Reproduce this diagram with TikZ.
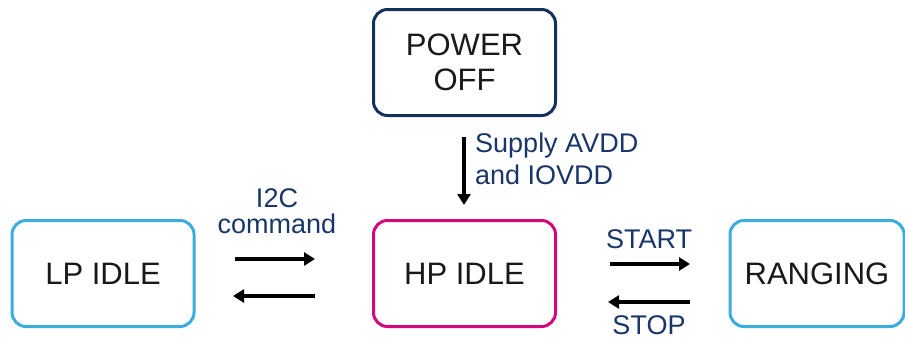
\documentclass[tikz,border=0pt]{standalone}
\usepackage{fontspec}
\setmainfont{Liberation Sans}
\usepackage{tikz}
\usetikzlibrary{arrows.meta}

\definecolor{navy}{HTML}{14305C}
\definecolor{lblue}{HTML}{3AACDE}
\definecolor{magen}{HTML}{D4087A}
\definecolor{lbltext}{HTML}{1A3668}

\tikzset{
  state/.style={draw, rounded corners=14pt, line width=3pt, minimum width=182pt,
    minimum height=106pt, align=center, text=black!90,
    font=\fontsize{31}{35}\selectfont},
  trans/.style={line width=4pt, -{Triangle[length=11pt,width=13pt]}},
  lbl/.style={text=lbltext, font=\fontsize{27}{32}\selectfont, inner sep=0pt}
}

\begin{document}
\begin{tikzpicture}[x=1pt, y=-1pt]
      \useasboundingbox (0,0) rectangle (905,340);
      \node[state, draw=navy]  (poweroff) at (464.5,62.5)  {POWER\\OFF};
      \node[state, draw=lblue] (lpidle)   at (103,273.5)   {LP IDLE};
      \node[state, draw=magen] (hpidle)   at (464.5,273.5) {HP IDLE};
      \node[state, draw=lblue, minimum width=174pt] (ranging) at (817,273.5) {RANGING};
      % power up
      \coordinate (supA) at (464,137);
      \coordinate (supB) at (464,205);
      \draw[trans] (supA) -- (supB);
      \node[lbl, anchor=west, align=left] (supply) at (475,159) {Supply AVDD\\and IOVDD};
      % I2C command
      \coordinate (icA) at (235,259);
      \coordinate (icB) at (315,259);
      \coordinate (icC) at (315,296);
      \coordinate (icD) at (233,296);
      \draw[trans] (icA) -- (icB);
      \draw[trans] (icC) -- (icD);
      \node[lbl, align=center, font=\fontsize{27}{26}\selectfont] (i2c) at (277,211) {I2C\\command};
      % start / stop
      \coordinate (stA) at (610,264);
      \coordinate (stB) at (690,264);
      \coordinate (stC) at (690,302);
      \coordinate (stD) at (608,302);
      \draw[trans] (stA) -- (stB);
      \draw[trans] (stC) -- (stD);
      \node[lbl] (start) at (649,239) {START};
      \node[lbl] (stop)  at (649,325) {STOP};
    \end{tikzpicture}
\end{document}
